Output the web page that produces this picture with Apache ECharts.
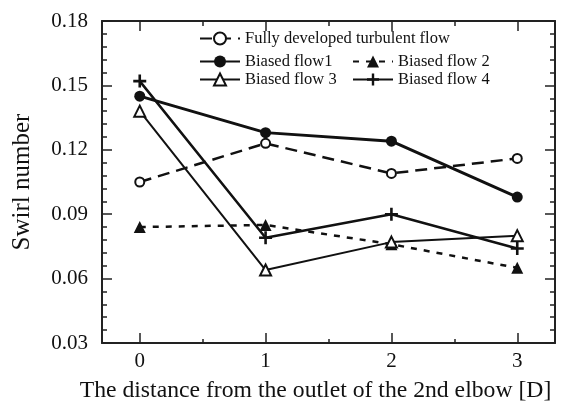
<!DOCTYPE html>
<html>
<head>
<meta charset="utf-8">
<script src="https://cdn.jsdelivr.net/npm/echarts@6/dist/echarts.min.js"></script>
<style>
  html, body { margin: 0; padding: 0; background: #fff; }
  #chart { width: 578px; height: 408px; }
</style>
</head>
<body>
<div id="chart"></div>
<script>
// Swirl number versus distance downstream of the 2nd elbow
const positions = [0, 1, 2, 3];
const majorXTicks = [0, 1, 2, 3];
const minorXTicks = [0.5, 1.5, 2.5];
const fullyDeveloped = [0.105, 0.123, 0.109, 0.116];
const biased1 = [0.145, 0.128, 0.124, 0.098];
const biased2 = [0.084, 0.085, 0.076, 0.065];
const biased3 = [0.138, 0.064, 0.077, 0.080];
const biased4 = [0.152, 0.079, 0.090, 0.074];

const FONT = '"Liberation Serif", "Times New Roman", serif';
const INK = '#111';
const PLUS = 'path://M4,0h2v4h4v2h-4v4h-2v-4h-4v-2h4z';

const pairs = ys => positions.map((x, i) => [x, ys[i]]);

const gridRect = { left: 102, right: 23, top: 21, bottom: 64 };
const frameLine = { show: true, onZero: false, lineStyle: { color: '#222', width: 2 } };

function series(name, ys, opts) {
  return Object.assign({
    name, type: 'line', data: pairs(ys), xAxisIndex: 0, yAxisIndex: 0,
    symbolSize: 10, showSymbol: true, animation: false,
    itemStyle: { color: INK, borderColor: INK, borderWidth: 0 },
    lineStyle: { color: INK, width: 2.5, type: 'solid' },
    z: 3
  }, opts);
}

function legendAt(name, left, top) {
  return {
    data: [name], left, top, orient: 'horizontal',
    itemWidth: 40, itemHeight: 15, padding: 0, selectedMode: false,
    textStyle: { fontFamily: FONT, fontSize: 16.5, color: INK }
  };
}

const chart = echarts.init(document.getElementById('chart'), null, { renderer: 'canvas' });
chart.setOption({
  backgroundColor: '#fff',
  animation: false,
  grid: [Object.assign({}, gridRect), Object.assign({}, gridRect)],
  legend: [
    legendAt('Fully developed turbulent flow', 199, 30),
    legendAt('Biased flow1', 199, 53),
    legendAt('Biased flow 2', 352, 53),
    legendAt('Biased flow 3', 199, 71),
    legendAt('Biased flow 4', 352, 71)
  ],
  xAxis: [
    {
      type: 'value', gridIndex: 0, position: 'bottom', min: -0.3, max: 3.3,
      axisLine: frameLine,
      axisTick: { show: true, inside: true, length: 10, customValues: majorXTicks,
                  lineStyle: { color: '#222', width: 1.5 } },
      axisLabel: { show: true, customValues: majorXTicks, margin: 8,
                   fontFamily: FONT, fontSize: 21, color: INK },
      splitLine: { show: false },
      name: 'The distance from the outlet of the 2nd elbow [D]',
      nameLocation: 'middle', nameGap: 36,
      nameTextStyle: { fontFamily: FONT, fontSize: 23.7, color: INK, padding: [0, 26, 0, 0] }
    },
    {
      type: 'value', gridIndex: 0, position: 'top', min: -0.3, max: 3.3,
      axisLine: frameLine,
      axisTick: { show: true, inside: true, length: 10, customValues: majorXTicks,
                  lineStyle: { color: '#222', width: 1.5 } },
      axisLabel: { show: false }, splitLine: { show: false }
    },
    {
      type: 'value', gridIndex: 1, position: 'bottom', min: -0.3, max: 3.3,
      axisLine: { show: false },
      axisTick: { show: true, inside: true, length: 5, customValues: minorXTicks,
                  lineStyle: { color: '#222', width: 1.5 } },
      axisLabel: { show: false }, splitLine: { show: false }
    },
    {
      type: 'value', gridIndex: 1, position: 'top', min: -0.3, max: 3.3,
      axisLine: { show: false },
      axisTick: { show: true, inside: true, length: 5, customValues: minorXTicks,
                  lineStyle: { color: '#222', width: 1.5 } },
      axisLabel: { show: false }, splitLine: { show: false }
    }
  ],
  yAxis: [
    {
      type: 'value', gridIndex: 0, position: 'left', min: 0.03, max: 0.18, interval: 0.03,
      axisLine: frameLine,
      axisTick: { show: true, inside: true, length: 10, lineStyle: { color: '#222', width: 1.5 } },
      minorTick: { show: true, splitNumber: 5, length: 5, lineStyle: { color: '#222', width: 1.5 } },
      axisLabel: { margin: 14, fontFamily: FONT, fontSize: 21, color: INK,
                   formatter: v => v.toFixed(2) },
      splitLine: { show: false }, minorSplitLine: { show: false },
      name: 'Swirl number', nameLocation: 'middle', nameGap: 67, nameRotate: 90,
      nameTextStyle: { fontFamily: FONT, fontSize: 25, color: INK }
    },
    {
      type: 'value', gridIndex: 0, position: 'right', min: 0.03, max: 0.18, interval: 0.03,
      axisLine: frameLine,
      axisTick: { show: true, inside: true, length: 10, lineStyle: { color: '#222', width: 1.5 } },
      minorTick: { show: true, splitNumber: 5, length: 5, lineStyle: { color: '#222', width: 1.5 } },
      axisLabel: { show: false }, splitLine: { show: false }, minorSplitLine: { show: false }
    },
    {
      type: 'value', gridIndex: 1, min: 0.03, max: 0.18, show: false
    }
  ],
  series: [
    series('Fully developed turbulent flow', fullyDeveloped, {
      symbol: 'emptyCircle', symbolSize: 9,
      itemStyle: { color: INK, borderColor: INK, borderWidth: 2.5 },
      lineStyle: { color: INK, width: 2.5, type: [12, 7] }
    }),
    series('Biased flow1', biased1, {
      symbol: 'circle', symbolSize: 11,
      lineStyle: { color: INK, width: 3, type: 'solid' }
    }),
    series('Biased flow 2', biased2, {
      symbol: 'triangle', symbolSize: 12,
      lineStyle: { color: INK, width: 2.5, type: [6, 7] }
    }),
    series('Biased flow 3', biased3, {
      symbol: 'emptyTriangle', symbolSize: 11,
      itemStyle: { color: INK, borderColor: INK, borderWidth: 2 },
      lineStyle: { color: INK, width: 2, type: 'solid' }
    }),
    series('Biased flow 4', biased4, {
      symbol: PLUS, symbolSize: 13,
      lineStyle: { color: INK, width: 2.5, type: 'solid' }
    })
  ]
});
</script>
</body>
</html>
